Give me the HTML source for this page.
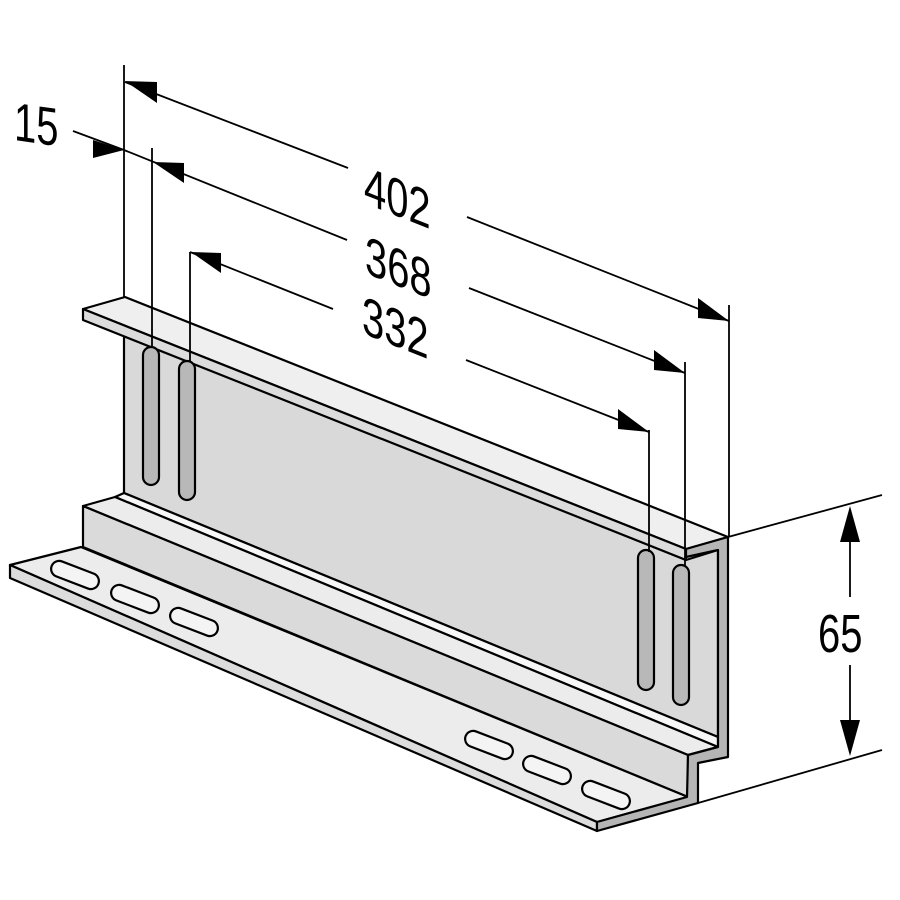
<!DOCTYPE html>
<html><head><meta charset="utf-8"><style>html,body{margin:0;padding:0;background:#fff}svg{display:block}</style></head>
<body>
<svg width="900" height="900" viewBox="0 0 900 900" xmlns="http://www.w3.org/2000/svg">
<g stroke="#000" stroke-width="2.2" stroke-linejoin="round">
<!-- web face -->
<polygon points="124,334 686,560 718,550 718,737 124,493" fill="#d9d9d9"/>
<!-- strip between web and step -->
<polygon points="124,493 718,737 718,747 115,497" fill="#f7f7f7"/>
<!-- top flange -->
<polygon points="83,309 125,297 728,537 686,549" fill="#efefef"/>
<polygon points="83,309 686,549 686,560 83,320" fill="#dcdcdc"/>
<!-- step top -->
<polygon points="83,506 115,497 718,747 688,755" fill="#ececec"/>
<!-- step vertical face -->
<polygon points="83,506 688,755 688,797 83,547" fill="#dadada"/>
<!-- bottom flange -->
<polygon points="10,565 81,547 688,797 597,822" fill="#ececec"/>
<polygon points="10,565 597,822 597,831 10,578" fill="#dcdcdc"/>
<!-- cross section -->
<polygon points="728,537 728,757 698,763 698,803 597,831 597,822 687,797 688,755 718,747 718,550 686,557 686,549" fill="#b5b5b5"/>
</g>
<!-- vertical slots -->
<g stroke="#000" stroke-width="2.2" fill="#b8b8b8">
<rect x="143" y="347" width="16" height="138" rx="8"/>
<rect x="179" y="361" width="16" height="139" rx="8"/>
<rect x="638" y="550" width="16" height="140" rx="8"/>
<rect x="673" y="565" width="16" height="140" rx="8"/>
</g>
<!-- horizontal slots -->
<g stroke="#000" stroke-width="2.2" fill="#f4f4f4">
<rect x="-25" y="-8" width="50" height="16" rx="8" transform="translate(75,575) rotate(21)"/>
<rect x="-25" y="-8" width="50" height="16" rx="8" transform="translate(135,599) rotate(21)"/>
<rect x="-25" y="-8" width="50" height="16" rx="8" transform="translate(194,622) rotate(21)"/>
<rect x="-25" y="-8" width="50" height="16" rx="8" transform="translate(489,745) rotate(21)"/>
<rect x="-25" y="-8" width="50" height="16" rx="8" transform="translate(547,770) rotate(21)"/>
<rect x="-25" y="-8" width="50" height="16" rx="8" transform="translate(606,795) rotate(21)"/>
</g>
<!-- dimension lines -->
<g stroke="#000" stroke-width="1.8" fill="none">
<line x1="124" y1="65" x2="124" y2="297"/>
<line x1="152" y1="148" x2="152" y2="348"/>
<line x1="190" y1="252" x2="190" y2="362"/>
<line x1="649" y1="430" x2="649" y2="552"/>
<line x1="685" y1="362" x2="685" y2="566"/>
<line x1="729" y1="305" x2="729" y2="537"/>
<line x1="125" y1="82" x2="348" y2="168"/>
<line x1="467" y1="217" x2="729" y2="321"/>
<line x1="73" y1="131" x2="124" y2="150"/>
<line x1="124" y1="150" x2="347" y2="240"/>
<line x1="469" y1="288" x2="685" y2="373"/>
<line x1="190" y1="252" x2="333" y2="309"/>
<line x1="466" y1="360" x2="649" y2="432"/>
<line x1="728" y1="537" x2="882" y2="495"/>
<line x1="698" y1="803" x2="882" y2="750"/>
<line x1="850" y1="530" x2="850" y2="597"/>
<line x1="850" y1="665" x2="850" y2="735"/>
</g>
<g fill="#000">
<polygon points="125,81 157,82 157,103"/>
<polygon points="124,150 93,140 93,158"/>
<polygon points="153,162 184,163 184,183"/>
<polygon points="191,252 221,253 221,273"/>
<polygon points="729,321 698,298 698,318"/>
<polygon points="685,373 654,350 654,370"/>
<polygon points="649,432 618,409 618,429"/>
<polygon points="850,506 840,542 860,542"/>
<polygon points="850,756 840,720 860,720"/>
</g>
<g font-family="Liberation Sans, sans-serif" font-size="54" fill="#000">
<text transform="translate(364,203) skewY(21.5) scale(0.74,1)">402</text>
<text transform="translate(365,273) skewY(21.5) scale(0.74,1)">368</text>
<text transform="translate(362,333) skewY(21.5) scale(0.74,1)">332</text>
<text transform="translate(14,140) skewY(8) scale(0.74,1)">15</text>
<text transform="translate(818,652) scale(0.74,1)">65</text>
</g>
</svg>
</body></html>
